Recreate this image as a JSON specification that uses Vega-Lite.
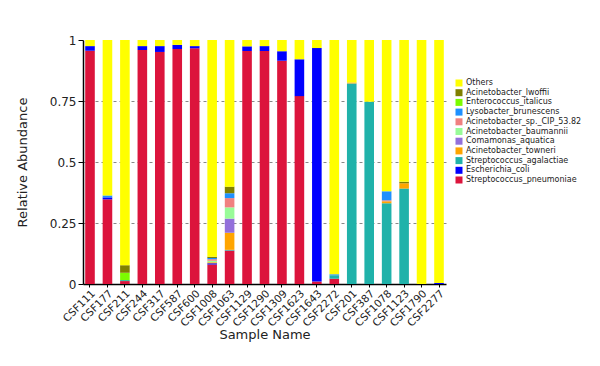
{
  "$schema": "https://vega.github.io/schema/vega-lite/v6.json",
  "autosize": {"type": "none"},
  "padding": {"left": 83, "top": 40, "right": 154, "bottom": 82},
  "width": 363,
  "height": 244,
  "background": "white",
  "config": {
    "view": {"stroke": null},
    "font": "DejaVu Sans"
  },
  "datasets": {
    "taxa": [
      {"taxon": "Streptococcus_pneumoniae", "rank": 1},
      {"taxon": "Escherichia_coli", "rank": 2},
      {"taxon": "Streptococcus_agalactiae", "rank": 3},
      {"taxon": "Acinetobacter_towneri", "rank": 4},
      {"taxon": "Comamonas_aquatica", "rank": 5},
      {"taxon": "Acinetobacter_baumannii", "rank": 6},
      {"taxon": "Acinetobacter_sp._CIP_53.82", "rank": 7},
      {"taxon": "Lysobacter_brunescens", "rank": 8},
      {"taxon": "Enterococcus_italicus", "rank": 9},
      {"taxon": "Acinetobacter_lwoffii", "rank": 10},
      {"taxon": "Others", "rank": 11}
    ],
    "abund": [
      {"sample": "CSF111", "taxon": "Streptococcus_pneumoniae", "value": 0.956},
      {"sample": "CSF111", "taxon": "Escherichia_coli", "value": 0.019},
      {"sample": "CSF111", "taxon": "Others", "value": 0.025},
      {"sample": "CSF177", "taxon": "Streptococcus_pneumoniae", "value": 0.347},
      {"sample": "CSF177", "taxon": "Escherichia_coli", "value": 0.008},
      {"sample": "CSF177", "taxon": "Lysobacter_brunescens", "value": 0.008},
      {"sample": "CSF177", "taxon": "Others", "value": 0.637},
      {"sample": "CSF211", "taxon": "Streptococcus_pneumoniae", "value": 0.012},
      {"sample": "CSF211", "taxon": "Streptococcus_agalactiae", "value": 0.004},
      {"sample": "CSF211", "taxon": "Enterococcus_italicus", "value": 0.030},
      {"sample": "CSF211", "taxon": "Acinetobacter_lwoffii", "value": 0.031},
      {"sample": "CSF211", "taxon": "Others", "value": 0.923},
      {"sample": "CSF244", "taxon": "Streptococcus_pneumoniae", "value": 0.959},
      {"sample": "CSF244", "taxon": "Escherichia_coli", "value": 0.016},
      {"sample": "CSF244", "taxon": "Others", "value": 0.025},
      {"sample": "CSF317", "taxon": "Streptococcus_pneumoniae", "value": 0.951},
      {"sample": "CSF317", "taxon": "Escherichia_coli", "value": 0.024},
      {"sample": "CSF317", "taxon": "Others", "value": 0.025},
      {"sample": "CSF587", "taxon": "Streptococcus_pneumoniae", "value": 0.963},
      {"sample": "CSF587", "taxon": "Escherichia_coli", "value": 0.017},
      {"sample": "CSF587", "taxon": "Others", "value": 0.020},
      {"sample": "CSF600", "taxon": "Streptococcus_pneumoniae", "value": 0.966},
      {"sample": "CSF600", "taxon": "Escherichia_coli", "value": 0.009},
      {"sample": "CSF600", "taxon": "Others", "value": 0.025},
      {"sample": "CSF1008", "taxon": "Streptococcus_pneumoniae", "value": 0.080},
      {"sample": "CSF1008", "taxon": "Escherichia_coli", "value": 0.005},
      {"sample": "CSF1008", "taxon": "Acinetobacter_towneri", "value": 0.004},
      {"sample": "CSF1008", "taxon": "Acinetobacter_baumannii", "value": 0.006},
      {"sample": "CSF1008", "taxon": "Acinetobacter_sp._CIP_53.82", "value": 0.006},
      {"sample": "CSF1008", "taxon": "Lysobacter_brunescens", "value": 0.006},
      {"sample": "CSF1008", "taxon": "Acinetobacter_lwoffii", "value": 0.005},
      {"sample": "CSF1008", "taxon": "Others", "value": 0.888},
      {"sample": "CSF1063", "taxon": "Streptococcus_pneumoniae", "value": 0.137},
      {"sample": "CSF1063", "taxon": "Streptococcus_agalactiae", "value": 0.003},
      {"sample": "CSF1063", "taxon": "Acinetobacter_towneri", "value": 0.070},
      {"sample": "CSF1063", "taxon": "Comamonas_aquatica", "value": 0.058},
      {"sample": "CSF1063", "taxon": "Acinetobacter_baumannii", "value": 0.046},
      {"sample": "CSF1063", "taxon": "Acinetobacter_sp._CIP_53.82", "value": 0.038},
      {"sample": "CSF1063", "taxon": "Lysobacter_brunescens", "value": 0.020},
      {"sample": "CSF1063", "taxon": "Acinetobacter_lwoffii", "value": 0.027},
      {"sample": "CSF1063", "taxon": "Others", "value": 0.601},
      {"sample": "CSF1129", "taxon": "Streptococcus_pneumoniae", "value": 0.955},
      {"sample": "CSF1129", "taxon": "Escherichia_coli", "value": 0.019},
      {"sample": "CSF1129", "taxon": "Others", "value": 0.026},
      {"sample": "CSF1290", "taxon": "Streptococcus_pneumoniae", "value": 0.955},
      {"sample": "CSF1290", "taxon": "Escherichia_coli", "value": 0.020},
      {"sample": "CSF1290", "taxon": "Others", "value": 0.025},
      {"sample": "CSF1309", "taxon": "Streptococcus_pneumoniae", "value": 0.915},
      {"sample": "CSF1309", "taxon": "Escherichia_coli", "value": 0.039},
      {"sample": "CSF1309", "taxon": "Others", "value": 0.046},
      {"sample": "CSF1623", "taxon": "Streptococcus_pneumoniae", "value": 0.770},
      {"sample": "CSF1623", "taxon": "Escherichia_coli", "value": 0.151},
      {"sample": "CSF1623", "taxon": "Others", "value": 0.079},
      {"sample": "CSF1643", "taxon": "Streptococcus_pneumoniae", "value": 0.010},
      {"sample": "CSF1643", "taxon": "Escherichia_coli", "value": 0.957},
      {"sample": "CSF1643", "taxon": "Others", "value": 0.033},
      {"sample": "CSF2272", "taxon": "Streptococcus_pneumoniae", "value": 0.022},
      {"sample": "CSF2272", "taxon": "Streptococcus_agalactiae", "value": 0.014},
      {"sample": "CSF2272", "taxon": "Lysobacter_brunescens", "value": 0.004},
      {"sample": "CSF2272", "taxon": "Others", "value": 0.960},
      {"sample": "CSF201", "taxon": "Streptococcus_agalactiae", "value": 0.822},
      {"sample": "CSF201", "taxon": "Acinetobacter_towneri", "value": 0.004},
      {"sample": "CSF201", "taxon": "Others", "value": 0.174},
      {"sample": "CSF387", "taxon": "Streptococcus_agalactiae", "value": 0.747},
      {"sample": "CSF387", "taxon": "Others", "value": 0.253},
      {"sample": "CSF1078", "taxon": "Streptococcus_agalactiae", "value": 0.331},
      {"sample": "CSF1078", "taxon": "Acinetobacter_towneri", "value": 0.008},
      {"sample": "CSF1078", "taxon": "Acinetobacter_sp._CIP_53.82", "value": 0.004},
      {"sample": "CSF1078", "taxon": "Lysobacter_brunescens", "value": 0.037},
      {"sample": "CSF1078", "taxon": "Others", "value": 0.620},
      {"sample": "CSF1123", "taxon": "Streptococcus_agalactiae", "value": 0.391},
      {"sample": "CSF1123", "taxon": "Acinetobacter_towneri", "value": 0.022},
      {"sample": "CSF1123", "taxon": "Acinetobacter_lwoffii", "value": 0.006},
      {"sample": "CSF1123", "taxon": "Others", "value": 0.581},
      {"sample": "CSF1790", "taxon": "Others", "value": 1.0},
      {"sample": "CSF2277", "taxon": "Escherichia_coli", "value": 0.004},
      {"sample": "CSF2277", "taxon": "Others", "value": 0.996}
    ]
  },
  "data": {"name": "abund"},
  "transform": [
    {"lookup": "taxon", "from": {"data": {"name": "taxa"}, "key": "taxon", "fields": ["rank"]}}
  ],
  "mark": {"type": "bar"},
  "encoding": {
    "x": {
      "field": "sample",
      "type": "nominal",
      "sort": null,
      "title": "Sample Name",
      "scale": {"paddingInner": 0.45, "paddingOuter": 0.126},
      "axis": {
        "labelAngle": -45,
        "labelFontSize": 10.5,
        "labelColor": "#222",
        "labelFont": "DejaVu Sans",
        "titleFont": "DejaVu Sans",
        "titleFontSize": 13,
        "titleFontWeight": "normal",
        "titleColor": "#222",
        "domainColor": "black",
        "domainWidth": 1.5,
        "tickColor": "black",
        "tickSize": 3,
        "labelPadding": 1,
        "titlePadding": 0
      }
    },
    "y": {
      "field": "value",
      "type": "quantitative",
      "stack": "zero",
      "title": "Relative Abundance",
      "scale": {"domain": [0, 1], "nice": false},
      "axis": {
        "values": [0, 0.25, 0.5, 0.75, 1],
        "labelExpr": "'' + datum.value",
        "labelFontSize": 12,
        "labelColor": "#222",
        "labelFont": "DejaVu Sans",
        "titleFont": "DejaVu Sans",
        "titleFontSize": 13,
        "titleFontWeight": "normal",
        "titleColor": "#222",
        "titlePadding": 20,
        "domainColor": "black",
        "domainWidth": 1.5,
        "tickColor": "black",
        "tickSize": 5,
        "labelPadding": 2,
        "grid": true,
        "gridDash": [3, 3],
        "gridColor": "#888",
        "gridOpacity": {"condition": {"test": "datum.value > 0 && datum.value < 1", "value": 1}, "value": 0}
      }
    },
    "color": {
      "field": "taxon",
      "type": "nominal",
      "scale": {
        "domain": ["Others", "Acinetobacter_lwoffii", "Enterococcus_italicus", "Lysobacter_brunescens", "Acinetobacter_sp._CIP_53.82", "Acinetobacter_baumannii", "Comamonas_aquatica", "Acinetobacter_towneri", "Streptococcus_agalactiae", "Escherichia_coli", "Streptococcus_pneumoniae"],
        "range": ["#FFFF00", "#808000", "#7CFC00", "#1E90FF", "#F08080", "#98FB98", "#9370DB", "#FFA500", "#20B2AA", "#0000FF", "#DC143C"]
      },
      "legend": {
        "title": null,
        "orient": "none",
        "legendX": 372,
        "legendY": 39,
        "symbolType": "square",
        "symbolSize": 49,
        "symbolStrokeWidth": 0,
        "labelFontSize": 8,
        "labelFont": "DejaVu Sans",
        "labelColor": "#222",
        "rowPadding": 1.7,
        "labelOffset": 3,
        "labelLimit": 200
      }
    },
    "order": {"field": "rank", "type": "quantitative", "sort": "ascending"}
  }
}
